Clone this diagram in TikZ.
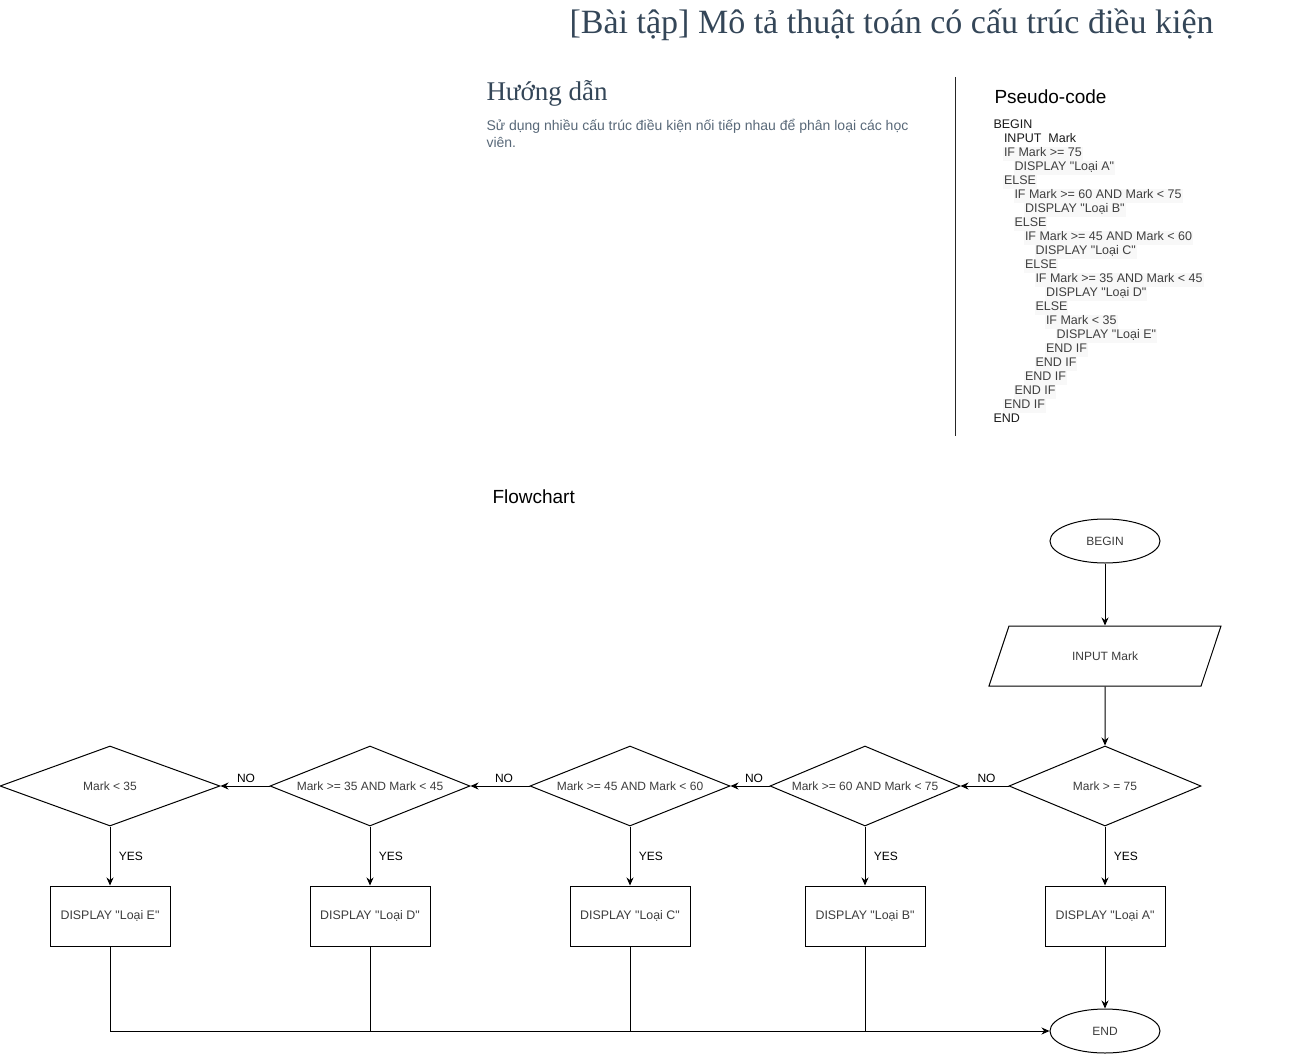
\documentclass[tikz,border=0pt]{standalone}
\usepackage{fontspec}
\setmainfont{Liberation Sans}[Ligatures=TeXOff]
\newfontfamily\headserif{Liberation Serif}
\usetikzlibrary{positioning, shapes.geometric, arrows.meta}
\definecolor{headcol}{RGB}{52,70,88}
\definecolor{desccol}{RGB}{88,104,120}
\definecolor{codebg}{RGB}{248,248,248}
\definecolor{shapetext}{RGB}{60,60,60}
\tikzstyle{every path}=[line width=1pt]
\tikzstyle{terminal}=[ellipse, draw, minimum width=110pt, minimum height=44pt, inner sep=0pt, text=shapetext, font=\fontsize{12}{14}\selectfont]
\tikzstyle{io}=[trapezium, trapezium left angle=71.6, trapezium right angle=108.4, trapezium stretches body=true, draw, minimum width=232pt, inner xsep=10pt, inner ysep=24pt, text height=10.3pt, text depth=1.7pt, text=shapetext, font=\fontsize{12}{14}\selectfont]
\tikzstyle{decision}=[diamond, aspect=2.5, draw, minimum height=80pt, inner sep=0pt, text=shapetext, font=\fontsize{12}{14}\selectfont]
\tikzstyle{process}=[rectangle, draw, minimum width=120pt, minimum height=60pt, inner sep=0pt, text=shapetext, font=\fontsize{12.4}{14}\selectfont]
\tikzstyle{codeline}=[anchor=base west, inner xsep=1pt, inner ysep=0pt, text height=10pt, text depth=4pt, text=black!75, font=\fontsize{12.5}{14}\selectfont]
\tikzstyle{answer}=[font=\fontsize{12}{14}\selectfont]

\begin{document}
\begin{tikzpicture}[x=1pt, y=-1pt, >={Stealth[length=8pt, width=7pt]}]
	\useasboundingbox (0,0) rectangle (1296,1057);
	% heading and guide
	\node[anchor=base east, inner sep=0pt, text=headcol, font=\headserif\fontsize{34}{40}\selectfont] (title) at (1214,34) {[Bài tập] Mô tả thuật toán có cấu trúc điều kiện};
	\node[anchor=base west, inner sep=0pt, text=headcol, font=\headserif\fontsize{27}{32}\selectfont] (guide) at (486,100) {Hướng dẫn};
	\node[anchor=north west, inner sep=0pt, align=left, text=desccol, font=\fontsize{14}{17}\selectfont] (guide-text) at (486,119) {Sử dụng nhiều cấu trúc điều kiện nối tiếp nhau để phân loại các học\\viên.};
	\draw[black!85] (955,77) -- (955,436);
	% pseudo-code
	\node[anchor=base west, inner sep=0pt, font=\fontsize{19}{22}\selectfont] (code-title) at (994,103) {Pseudo-code};
	\node[codeline, text=black!90] (code-0) at (992,128.5) {BEGIN};
	\node[codeline, text=black!90] (code-1) at (1002.5,142.5) {INPUT\ \ Mark};
	\foreach \lvl/\txt [count=\i from 2] in {1/IF Mark >= 75, 2/DISPLAY "Loại A", 1/ELSE, 2/IF Mark >= 60 AND Mark < 75, 3/DISPLAY "Loại B", 2/ELSE, 3/IF Mark >= 45 AND Mark < 60, 4/DISPLAY "Loại C", 3/ELSE, 4/IF Mark >= 35 AND Mark < 45, 5/DISPLAY "Loại D", 4/ELSE, 5/IF Mark < 35\ , 6/DISPLAY "Loại E", 5/END IF, 4/END IF, 3/END IF, 2/END IF, 1/END IF}
		\node[codeline, fill=codebg] (code-\i) at (992+10.5*\lvl,128.5+14*\i) {\txt};
	\node[codeline, text=black!90] (code-21) at (992,422.5) {END};
	% flowchart
	\node[anchor=base west, inner sep=0pt, font=\fontsize{19}{22}\selectfont] (flow-title) at (492,503) {Flowchart};
	\node[terminal] (begin) at (1105,541) {BEGIN};
	\node[io] (input) at (1105,656) {INPUT Mark};
	\node[decision, minimum width=192pt] (d1) at (1105,786) {Mark > = 75};
	\node[decision, minimum width=190pt] (d2) at (865,786) {Mark >= 60 AND Mark < 75};
	\node[decision, minimum width=200pt] (d3) at (630,786) {Mark >= 45 AND Mark < 60};
	\node[decision, minimum width=200pt] (d4) at (370,786) {Mark >= 35 AND Mark < 45};
	\node[decision, minimum width=220pt] (d5) at (110,786) {Mark < 35};
	\node[process] (dispA) at (1105,916) {DISPLAY "Loại A"};
	\node[process] (dispB) at (865,916) {DISPLAY "Loại B"};
	\node[process] (dispC) at (630,916) {DISPLAY "Loại C"};
	\node[process] (dispD) at (370,916) {DISPLAY "Loại D"};
	\node[process] (dispE) at (110,916) {DISPLAY "Loại E"};
	\node[terminal] (end) at (1105,1031) {END};
	\path
	(begin) edge[->] (input)
	(input) edge[->] (d1)
	(d1) edge[->] node[answer, above, xshift=2pt] {NO} (d2)
	(d2) edge[->] node[answer, above, xshift=4pt] {NO} (d3)
	(d3) edge[->] node[answer, above, xshift=4pt] {NO} (d4)
	(d4) edge[->] node[answer, above, xshift=1pt] {NO} (d5)
	(d1) edge[->] node[answer, right, xshift=5pt] {YES} (dispA)
	(d2) edge[->] node[answer, right, xshift=5pt] {YES} (dispB)
	(d3) edge[->] node[answer, right, xshift=5pt] {YES} (dispC)
	(d4) edge[->] node[answer, right, xshift=5pt] {YES} (dispD)
	(d5) edge[->] node[answer, right, xshift=5pt] {YES} (dispE)
	(dispA) edge[->] (end);
	\draw[->] (dispE) |- (end);
	\draw (dispD) -- (dispD |- end);
	\draw (dispC) -- (dispC |- end);
	\draw (dispB) -- (dispB |- end);
\end{tikzpicture}
\end{document}
